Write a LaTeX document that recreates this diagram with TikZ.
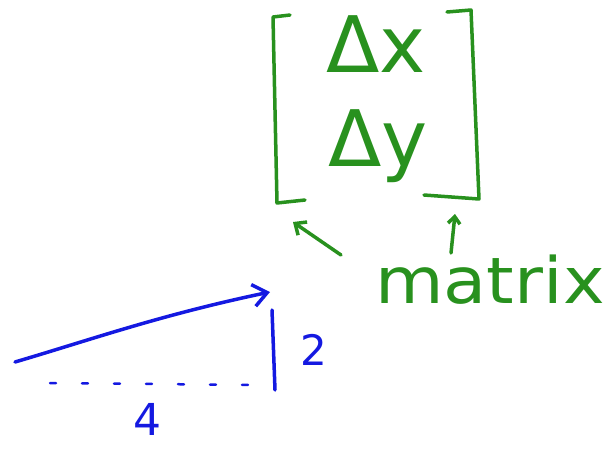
\documentclass[tikz,border=0pt]{standalone}
\usepackage{fontspec}
\setmainfont{DejaVu Sans}
\usetikzlibrary{arrows.meta}
\definecolor{pen}{RGB}{40,145,30}
\definecolor{ink}{RGB}{20,25,225}
\begin{document}
\begin{tikzpicture}[x=1pt,y=-1pt,
  gline/.style={draw=pen,line width=3.5pt,line cap=round,line join=round},
  bline/.style={draw=ink,line width=3.5pt,line cap=round,line join=round},
  gtext/.style={text=pen,inner sep=0pt,font=\fontsize{78}{80}\selectfont},
  btext/.style={text=ink,inner sep=0pt}]
\useasboundingbox (0,0) rectangle (611,450);
% left bracket
\coordinate (lt1) at (290,15); \coordinate (lt0) at (273,17);
\coordinate (lb0) at (277,203); \coordinate (lb1) at (305,200);
\draw[gline] (lt1) -- (lt0) -- (lb0) -- (lb1);
% right bracket
\coordinate (rt1) at (447,12); \coordinate (rt0) at (471,10);
\coordinate (rb0) at (479,199); \coordinate (rb1) at (424,195);
\draw[gline] (rt1) -- (rt0) -- (rb0) -- (rb1);
% entries
\node[gtext] (dx) at (376,44) {Δx};
\node[gtext] (dy) at (378,146) {Δy};
% label
\node[gtext,font=\fontsize{64}{66}\selectfont,xscale=1.1,anchor=base] (mat) at (490,303) {matrix};
\coordinate (la) at (293,222); \coordinate (ra) at (455,214);
\draw[gline,-{Straight Barb[length=9pt,width=16pt]}] (341,255) -- (la);
\draw[gline,-{Straight Barb[length=7pt,width=12pt]}] (451,253) -- (ra);
% blue vector
\coordinate (v0) at (15,362); \coordinate (v1) at (270,292);
\draw[bline,-{Straight Barb[length=14pt,width=22pt]}] (v0) .. controls (90,340) and (160,315) .. (v1);
\coordinate (up0) at (272,310); \coordinate (up1) at (275,390);
\draw[bline] (up0) -- (up1);
\coordinate (d0) at (50,383); \coordinate (d1) at (258,385);
\draw[bline,line width=2.5pt,dash pattern=on 6pt off 26pt] (d0) -- (d1);
\node[btext,font=\fontsize{42}{44}\selectfont] (two) at (314,350) {2};
\node[btext,font=\fontsize{44}{46}\selectfont] (four) at (147,419) {4};
\end{tikzpicture}
\end{document}
